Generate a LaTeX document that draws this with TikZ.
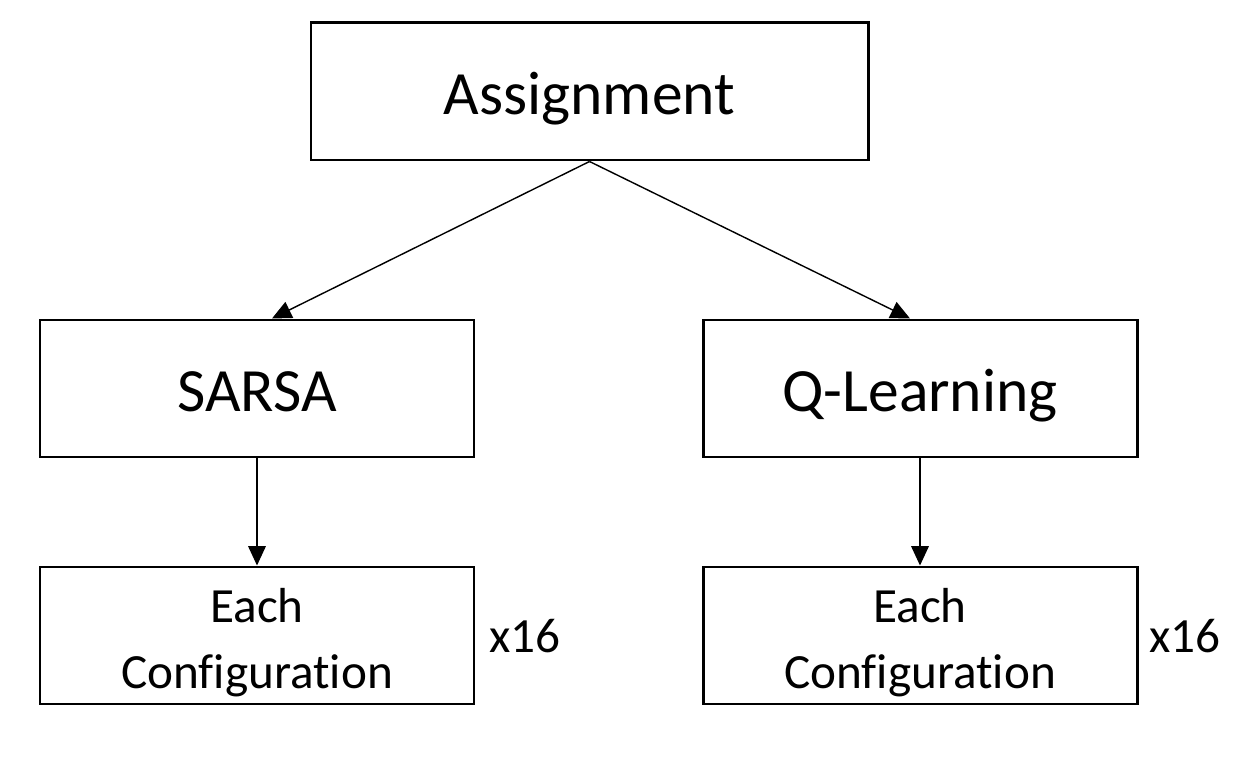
\documentclass[tikz,border=0pt]{standalone}
\usepackage{fontspec}
\setmainfont{Carlito}[Ligatures={NoCommon}]
\usetikzlibrary{arrows.meta}

\begin{document}
\begin{tikzpicture}
	[box/.style={draw, line width=1.7pt, minimum width=8.68cm, minimum height=2.74cm, inner sep=0pt, align=center},
	 big/.style={font=\fontsize{35}{42}\selectfont, text height=33pt, text depth=7pt},
	 small/.style={font=\fontsize{28}{37.6}\selectfont, text height=62pt, text depth=2pt},
	 link/.style={-{Triangle[length=11pt,width=10pt]}, line width=0.8pt}];
	\useasboundingbox (0,0) rectangle (25.2,15.18);

	%Boxes
	\node[box, big, minimum width=11.14cm] (assign) at (11.79,13.35) {Assignment};
	\node[box, big] (sarsa) at (5.14,7.41) {SARSA};
	\node[box, big] (qlearn) at (18.4,7.41) {Q-Learning};
	\node[box, small] (sarsacfg) at (5.14,2.47) {Each\\Configuration};
	\node[box, small] (qlearncfg) at (18.4,2.47) {Each\\Configuration};

	%Repeat counts
	\node[font=\fontsize{28}{34}\selectfont] (sarsax) at (10.5,2.46) {x16};
	\node[font=\fontsize{28}{34}\selectfont] (qlearnx) at (23.7,2.46) {x16};

	%Arrows
	\draw[link] (assign.south) -- ([xshift=0.3cm]sarsa.north);
	\draw[link] (assign.south) -- ([xshift=-0.2cm]qlearn.north);
	\draw[link] (sarsa) -- (sarsacfg);
	\draw[link] (qlearn) -- (qlearncfg);
\end{tikzpicture}
\end{document}
